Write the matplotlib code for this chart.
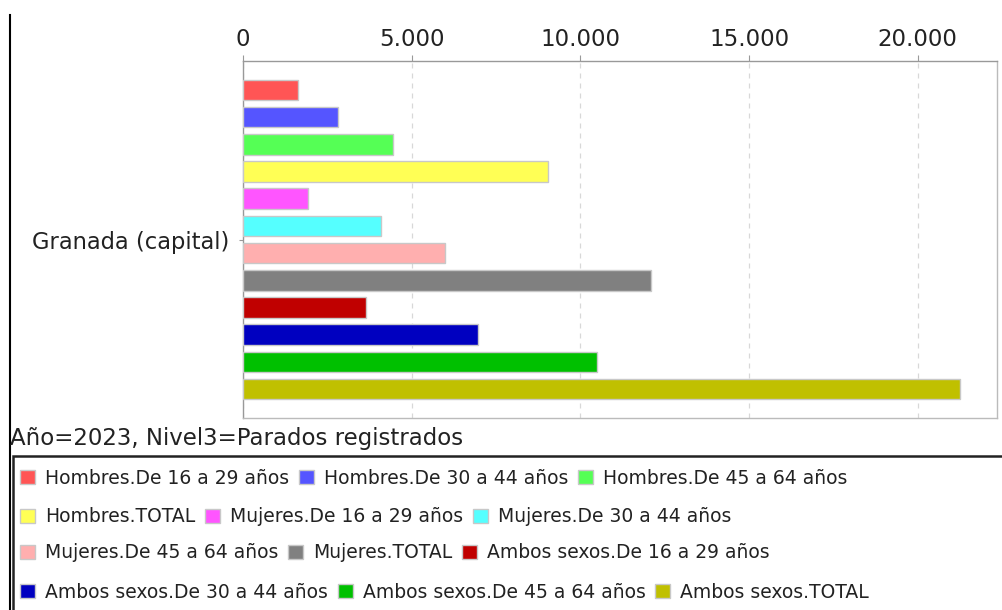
import numpy as np
import matplotlib
matplotlib.use("Agg")
import matplotlib.pyplot as plt
from matplotlib.lines import Line2D
from matplotlib.patches import Rectangle, Patch
from matplotlib.ticker import FuncFormatter, MultipleLocator

# ---- data ----
category = "Granada (capital)"
series = [
    "Hombres.De 16 a 29 años", "Hombres.De 30 a 44 años", "Hombres.De 45 a 64 años",
    "Hombres.TOTAL", "Mujeres.De 16 a 29 años", "Mujeres.De 30 a 44 años",
    "Mujeres.De 45 a 64 años", "Mujeres.TOTAL", "Ambos sexos.De 16 a 29 años",
    "Ambos sexos.De 30 a 44 años", "Ambos sexos.De 45 a 64 años", "Ambos sexos.TOTAL",
]
values = [1630, 2830, 4450, 9050, 1940, 4090, 5990, 12100, 3650, 6960, 10480, 21260]
colors = ["#FF5555", "#5555FF", "#55FF55", "#FFFF55", "#FF55FF", "#55FFFF",
          "#FFAFAF", "#808080", "#C00000", "#0000C0", "#00C000", "#C0C000"]
title = "Año=2023, Nivel3=Parados registrados"

W, H = 1002, 610
fig = plt.figure(figsize=(W / 100, H / 100), dpi=100)
fig.patch.set_facecolor("white")

ax = fig.add_axes([243 / W, 1 - 418 / H, (997 - 243) / W, (418 - 61) / H])

n = len(values)
pitch = 0.0762
offsets = (np.arange(n) - (n - 1) / 2) * pitch
ax.barh(offsets, values, height=0.0574, color=colors, edgecolor="#C8C8C8",
        linewidth=1.0, zorder=3)

ax.set_ylim(0.5, -0.5)
ax.set_xlim(0, 22350)
ax.set_yticks([0])
ax.set_yticklabels([category], fontsize=16.3, color="#222222")
ax.tick_params(axis="y", length=3, color="#999999", pad=7)

ax.xaxis.tick_top()
ax.xaxis.set_major_locator(MultipleLocator(5000))
ax.xaxis.set_major_formatter(FuncFormatter(lambda v, p: f"{int(v):,}".replace(",", ".")))
ax.tick_params(axis="x", labelsize=16.5, length=4, color="#999999", pad=3,
               labelcolor="#222222")
ax.grid(axis="x", color="#D8D8D8", linestyle=(0, (4, 4)), linewidth=0.9, zorder=0)
for s in ax.spines.values():
    s.set_color("#BBBBBB")
    s.set_linewidth(1.0)
ax.spines["top"].set_color("#999999")
ax.spines["left"].set_color("#999999")

# left border line of the container
fig.add_artist(Line2D([9.5 / W, 9.5 / W], [0, 1 - 15 / H], color="black", lw=1.5))

# title below chart
fig.text(10 / W, 1 - 438 / H, title, fontsize=16.5, va="center", ha="left", color="#222222")

# legend frame
fig.add_artist(Rectangle((12.5 / W, -0.01), 1.0, (1 - 456 / H) + 0.01,
                         transform=fig.transFigure, fill=False, edgecolor="#222222", lw=1.8))

rows_y = [478, 517, 553, 592]
for r, yy in enumerate(rows_y):
    idx = range(r * 3, r * 3 + 3)
    handles = [Patch(facecolor=colors[i], edgecolor="#C8C8C8", linewidth=1.0) for i in idx]
    labels = [series[i] for i in idx]
    leg = fig.legend(handles, labels, loc="center left",
                     bbox_to_anchor=(20 / W, 1 - yy / H), ncol=3, frameon=False,
                     fontsize=13.5, handlelength=0.8, handleheight=0.8,
                     handletextpad=0.55, columnspacing=0.5, borderpad=0,
                     borderaxespad=0)
    for t in leg.get_texts():
        t.set_color("#222222")

fig.savefig("out.png", dpi=100)
